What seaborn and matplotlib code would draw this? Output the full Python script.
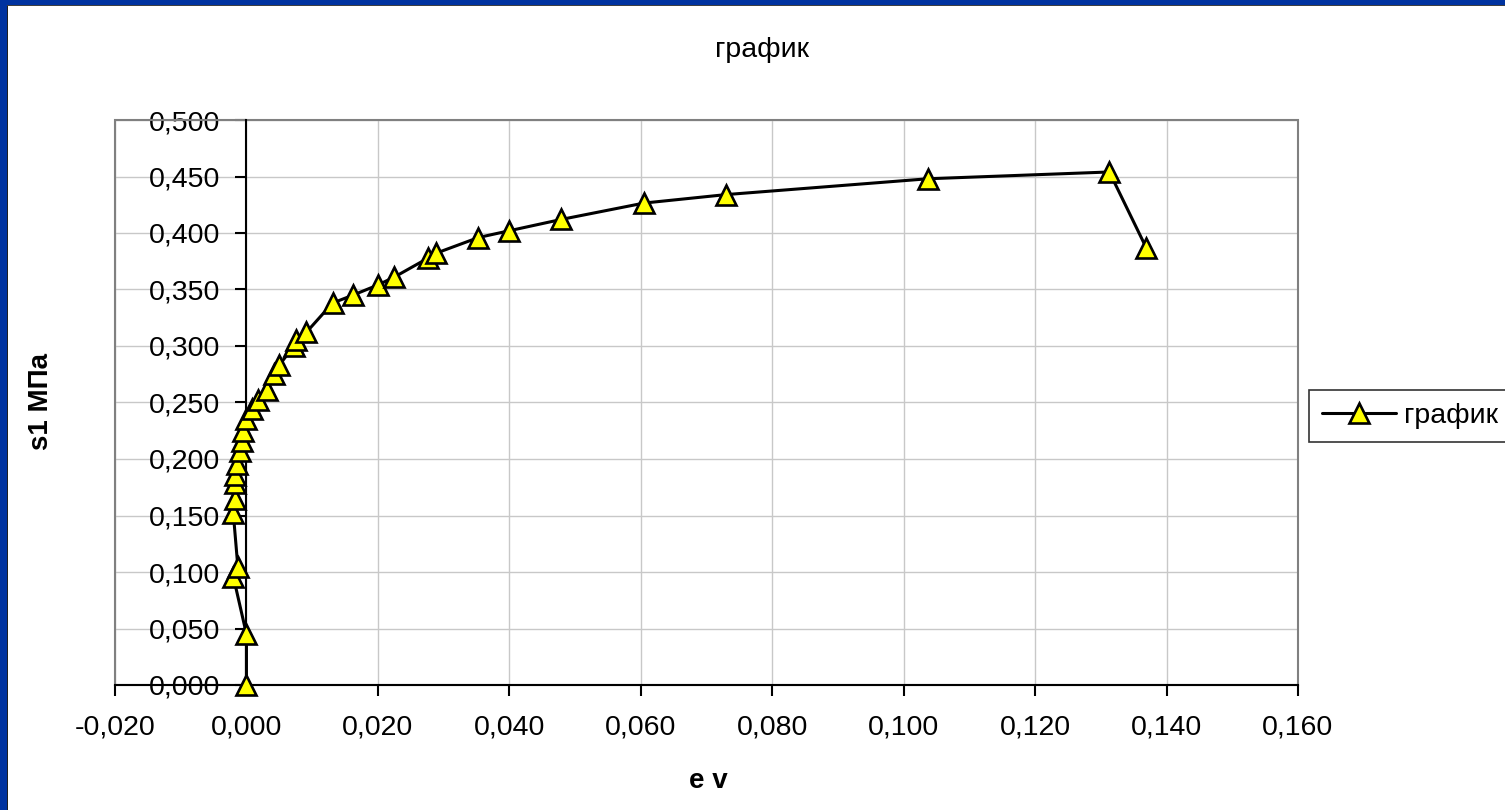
import numpy as np
import pandas as pd
import matplotlib
matplotlib.use("Agg")
import matplotlib.pyplot as plt
from matplotlib.patches import Rectangle
from matplotlib.ticker import FuncFormatter, MultipleLocator
import seaborn as sns

# e v (x) and s1, MPa (y)
ev = [0.0000, 0.0000, -0.0020, -0.0013, -0.0020, -0.0017, -0.0017, -0.0017,
      -0.0015, -0.0010, -0.0007, -0.0005, 0.0000, 0.0008, 0.0018, 0.0031,
      0.0042, 0.0050, 0.0072, 0.0075, 0.0091, 0.0131, 0.0162, 0.0200,
      0.0225, 0.0277, 0.0288, 0.0353, 0.0400, 0.0479, 0.0605, 0.0730,
      0.1037, 0.1313, 0.1369]
s1 = [0.000, 0.045, 0.096, 0.104, 0.152, 0.165, 0.179, 0.186,
      0.196, 0.207, 0.216, 0.225, 0.235, 0.244, 0.252, 0.261,
      0.275, 0.283, 0.300, 0.305, 0.312, 0.338, 0.345, 0.354,
      0.361, 0.378, 0.382, 0.396, 0.402, 0.412, 0.4265, 0.434,
      0.448, 0.454, 0.387]
series_name = "график"
title = "график"
xlabel = "e v"
ylabel = "s1 МПа"

sns.set_style("white")
plt.rcParams["font.family"] = ["Liberation Sans", "DejaVu Sans"]
plt.rcParams["text.color"] = "black"
plt.rcParams["xtick.color"] = "black"
plt.rcParams["ytick.color"] = "black"
FS = 20.5

W, H = 1505, 810
fig = plt.figure(figsize=(W / 100, H / 100), dpi=100)
ax = fig.add_axes([115 / W, 1 - 685 / H, (1298 - 115) / W, (685 - 120) / H])

df = pd.DataFrame({"ev": ev, "s1": s1})
sns.lineplot(ax=ax, data=df, x="ev", y="s1", sort=False, estimator=None,
             color="black", linewidth=2.2, marker="^", markersize=15,
             markerfacecolor="#ffff00", markeredgecolor="black",
             markeredgewidth=1.9, label=series_name, zorder=5, clip_on=False)

ax.set_xlim(-0.02, 0.16)
ax.set_ylim(0, 0.5)
ax.xaxis.set_major_locator(MultipleLocator(0.02))
ax.yaxis.set_major_locator(MultipleLocator(0.05))
fmt = FuncFormatter(lambda v, p: ("%.3f" % v).replace(".", ",").replace("-0,000", "0,000"))
ax.xaxis.set_major_formatter(fmt)
ax.yaxis.set_major_formatter(fmt)
ax.grid(True, color="#c8c8c8", linewidth=1.0)
ax.set_axisbelow(True)

# plot-area frame in grey, axes lines in black (y axis crosses at x = 0)
ax.add_patch(Rectangle((0, 0), 1, 1, transform=ax.transAxes, fill=False,
                       edgecolor="#808080", linewidth=1.5, zorder=1, clip_on=False))
for s in ["top", "right"]:
    ax.spines[s].set_visible(False)
ax.spines["left"].set_position(("data", 0))
ax.spines["left"].set_color("black")
ax.spines["left"].set_linewidth(1.5)
ax.spines["left"].set_zorder(4)
ax.spines["bottom"].set_color("black")
ax.spines["bottom"].set_linewidth(1.5)
ax.tick_params(axis="y", direction="out", length=8, width=1.5, pad=11,
               labelsize=FS, left=True, color="black", labelcolor="black")
ax.tick_params(axis="x", direction="out", length=8, width=1.5, pad=13,
               labelsize=FS, bottom=True, color="black", labelcolor="black")
ax.set_xlabel("")
ax.set_ylabel("")

fig.text(762 / W, 1 - 50 / H, title, ha="center", va="center", fontsize=FS)
fig.text(708 / W, 1 - 781 / H, xlabel, ha="center", va="center",
         fontsize=FS - 0.5, fontweight="bold")
fig.text(41 / W, 1 - 402 / H, ylabel, ha="center", va="center",
         fontsize=FS - 0.5, fontweight="bold", rotation=90)

leg = ax.legend(loc="upper left", bbox_to_anchor=(1309 / W, 1 - 390 / H),
                bbox_transform=fig.transFigure, fontsize=FS, frameon=True,
                fancybox=False, handlelength=2.6, handletextpad=0.3,
                borderpad=0.45, borderaxespad=0)
leg.get_frame().set_edgecolor("black")
leg.get_frame().set_linewidth(1.2)

# dark blue slide frame on top and left edges
fig.patches.append(Rectangle((0, 0), 7 / W, 1, transform=fig.transFigure,
                             facecolor="#0033a0", edgecolor="none", zorder=10))
fig.patches.append(Rectangle((0, 1 - 5 / H), 1, 5 / H, transform=fig.transFigure,
                             facecolor="#0033a0", edgecolor="none", zorder=10))
fig.patches.append(Rectangle((7 / W, 0), 1 / W, 1 - 5 / H, transform=fig.transFigure,
                             facecolor="#202020", edgecolor="none", zorder=10))
fig.patches.append(Rectangle((7 / W, 1 - 6 / H), 1, 1 / H, transform=fig.transFigure,
                             facecolor="#404040", edgecolor="none", zorder=10))

fig.savefig("out.png", dpi=100)
